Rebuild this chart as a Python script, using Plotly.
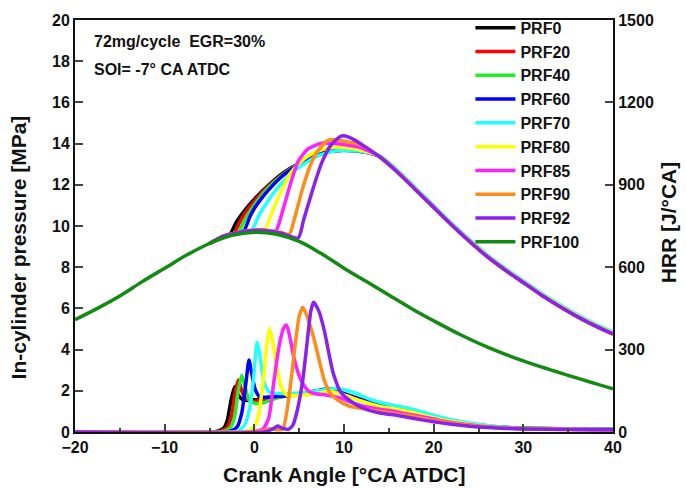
import plotly.graph_objects as go

# ---------------- data ----------------
names = ["PRF0", "PRF20", "PRF40", "PRF60", "PRF70", "PRF80", "PRF85", "PRF90", "PRF92", "PRF100"]
colors = ["#000000", "#ff0000", "#22ee22", "#0000ff", "#22ffff", "#ffff00", "#ff22ff", "#ff8c1a", "#8a22ee", "#138a13"]

# motoring / PRF100 pressure
ca_p_prf100 = [-20, -17.5, -15, -12.5, -10, -7.5, -5, -2.5, 0, 2.5, 5, 7.5, 10, 12.5, 15, 17.5, 20, 23, 26, 30, 35, 40]
p_prf100 = [5.45, 6.0, 6.6, 7.3, 7.95, 8.6, 9.15, 9.55, 9.7, 9.6, 9.25, 8.65, 7.95, 7.3, 6.65, 6.0, 5.4, 4.72, 4.12, 3.45, 2.75, 2.1]

# fired cylinder pressure (MPa)
ca_p_prf0 = [-5, -3.5, -2.7, -2, -1, 0, 1, 2, 3, 4, 5, 6, 7, 8, 9, 10, 12, 14, 16, 18, 20, 22, 24, 26, 28, 30, 32, 34, 36, 38, 40]
p_prf0 = [9.15, 9.5, 9.62, 10.2, 10.8, 11.3, 11.75, 12.15, 12.5, 12.8, 13.05, 13.3, 13.48, 13.6, 13.66, 13.68, 13.62, 13.38, 12.65, 11.8, 10.95, 10.1, 9.3, 8.55, 7.9, 7.3, 6.7, 6.15, 5.65, 5.2, 4.8]
ca_p_prf20 = [-5, -3.5, -2.3, -1.6, -1, 0, 1, 2, 3, 4, 5, 6, 7, 8, 9, 10, 12, 14, 16, 18, 20, 22, 24, 26, 28, 30, 32, 34, 36, 38, 40]
p_prf20 = [9.15, 9.5, 9.65, 10.2, 10.65, 11.2, 11.7, 12.1, 12.45, 12.78, 13.05, 13.3, 13.48, 13.6, 13.66, 13.68, 13.62, 13.38, 12.65, 11.8, 10.95, 10.1, 9.3, 8.55, 7.9, 7.3, 6.7, 6.15, 5.65, 5.2, 4.8]
ca_p_prf40 = [-5, -3.5, -1.8, -1.1, -0.5, 0.3, 1, 2, 3, 4, 5, 6, 7, 8, 9, 10, 12, 14, 16, 18, 20, 22, 24, 26, 28, 30, 32, 34, 36, 38, 40]
p_prf40 = [9.15, 9.5, 9.7, 10.25, 10.7, 11.2, 11.6, 12.05, 12.42, 12.75, 13.03, 13.28, 13.47, 13.6, 13.66, 13.68, 13.62, 13.38, 12.65, 11.8, 10.95, 10.1, 9.3, 8.55, 7.9, 7.3, 6.7, 6.15, 5.65, 5.2, 4.8]
ca_p_prf60 = [-5, -3.5, -1.2, -0.5, 0, 1, 2, 3, 4, 5, 6, 7, 8, 9, 10, 12, 14, 16, 18, 20, 22, 24, 26, 28, 30, 32, 34, 36, 38, 40]
p_prf60 = [9.15, 9.5, 9.75, 10.45, 10.85, 11.45, 11.95, 12.38, 12.72, 13.0, 13.25, 13.45, 13.58, 13.65, 13.68, 13.62, 13.38, 12.65, 11.8, 10.95, 10.1, 9.3, 8.55, 7.9, 7.3, 6.7, 6.15, 5.65, 5.2, 4.8]
ca_p_prf70 = [-5, -3.5, -0.3, 0.5, 1.5, 2.5, 3.5, 4.5, 5.5, 6.5, 7.5, 8.5, 9.5, 10.5, 12, 14, 16, 18, 20, 22, 24, 26, 28, 30, 32, 34, 36, 38, 40]
p_prf70 = [9.15, 9.5, 9.8, 10.5, 11.2, 11.8, 12.3, 12.7, 13.0, 13.28, 13.48, 13.6, 13.66, 13.66, 13.62, 13.42, 12.7, 11.85, 11.0, 10.15, 9.35, 8.6, 7.95, 7.35, 6.75, 6.2, 5.7, 5.25, 4.85]
ca_p_prf80 = [-5, -3.5, -1, 1.1, 2, 3, 4, 5, 6, 7.5, 9, 10.5, 12, 14, 16, 18, 20, 22, 24, 26, 28, 30, 32, 34, 36, 38, 40]
p_prf80 = [9.15, 9.5, 9.75, 9.8, 10.7, 11.7, 12.55, 13.05, 13.4, 13.7, 13.82, 13.8, 13.68, 13.38, 12.65, 11.8, 10.95, 10.1, 9.3, 8.55, 7.9, 7.3, 6.7, 6.15, 5.65, 5.2, 4.8]
ca_p_prf85 = [-5, -3.5, -1, 1, 2.4, 3, 4, 4.9, 6, 7.5, 9, 11, 12, 14, 16, 18, 20, 22, 24, 26, 28, 30, 32, 34, 36, 38, 40]
p_prf85 = [9.15, 9.5, 9.75, 9.8, 9.76, 10.5, 12.0, 13.15, 13.75, 14.02, 14.0, 13.88, 13.78, 13.36, 12.62, 11.77, 10.92, 10.07, 9.27, 8.52, 7.87, 7.27, 6.67, 6.12, 5.62, 5.17, 4.77]
ca_p_prf90 = [-5, -3.5, -1, 1, 3, 3.9, 4.5, 5.5, 6.3, 7, 8, 8.6, 10, 12, 14, 16, 18, 20, 22, 24, 26, 28, 30, 32, 34, 36, 38, 40]
p_prf90 = [9.15, 9.5, 9.75, 9.8, 9.68, 9.6, 10.4, 12.0, 13.0, 13.6, 14.1, 14.2, 14.12, 13.92, 13.35, 12.6, 11.75, 10.9, 10.05, 9.25, 8.5, 7.85, 7.25, 6.65, 6.1, 5.6, 5.15, 4.75]
ca_p_prf92 = [-5, -3.5, -1, 1, 3, 4.9, 5.5, 6.5, 7.5, 8.5, 9.5, 10, 11, 12, 14, 16, 18, 20, 22, 24, 26, 28, 30, 32, 34, 36, 38, 40]
p_prf92 = [9.15, 9.5, 9.75, 9.78, 9.65, 9.42, 10.3, 11.75, 13.05, 13.9, 14.32, 14.38, 14.22, 13.95, 13.35, 12.6, 11.75, 10.9, 10.05, 9.25, 8.5, 7.85, 7.25, 6.65, 6.1, 5.6, 5.15, 4.75]

# heat release rate (J/°CA)
ca_h_prf0 = [-20, -4.6, -4.0, -3.4, -3.0, -2.6, -2.2, -1.8, -1.3, -0.5, 1, 3, 5, 7, 8.5, 10, 12, 14, 16, 18, 20, 22, 24, 26, 28, 30, 35, 40]
h_prf0 = [0, 0, 4, 15, 45, 115, 165, 135, 118, 115, 122, 130, 138, 150, 155, 140, 118, 98, 86, 72, 55, 40, 30, 22, 17, 14, 11, 9]
ca_h_prf20 = [-20, -4.3, -3.7, -3.1, -2.6, -2.2, -1.8, -1.4, -1.0, 0, 1, 3, 5, 7, 8.5, 10, 12, 14, 16, 18, 20, 22, 24, 26, 28, 30, 35, 40]
h_prf20 = [0, 0, 4, 15, 50, 130, 189, 150, 122, 112, 118, 128, 137, 148, 154, 138, 115, 95, 84, 70, 53, 39, 29, 21, 16, 13, 10, 9]
ca_h_prf40 = [-20, -3.9, -3.3, -2.7, -2.2, -1.8, -1.4, -1.0, -0.6, 0, 1, 2, 3, 5, 7, 8.5, 10, 12, 14, 16, 18, 20, 22, 24, 26, 28, 30, 35, 40]
h_prf40 = [0, 0, 4, 15, 55, 150, 207, 160, 118, 105, 106, 118, 128, 136, 150, 158, 140, 116, 97, 85, 71, 54, 40, 30, 22, 17, 14, 11, 9]
ca_h_prf60 = [-20, -3.2, -2.5, -1.9, -1.4, -0.9, -0.6, -0.3, 0.1, 0.6, 1.5, 3, 5, 7, 8.5, 10, 12, 14, 16, 18, 20, 22, 24, 26, 28, 30, 35, 40]
h_prf60 = [0, 0, 5, 20, 70, 189, 262, 215, 155, 128, 127, 130, 137, 150, 157, 140, 116, 96, 84, 70, 53, 39, 29, 21, 16, 13, 10, 9]
ca_h_prf70 = [-20, -2.4, -1.7, -1.1, -0.5, -0.1, 0.3, 0.7, 1.1, 1.7, 3, 5, 7, 9, 11, 13, 15, 17, 19, 21, 23, 25, 27, 30, 35, 40]
h_prf70 = [0, 0, 5, 25, 90, 189, 327, 260, 180, 145, 140, 142, 150, 158, 145, 118, 100, 88, 70, 52, 38, 28, 20, 14, 11, 9]
ca_h_prf80 = [-20, -1.4, -0.7, -0.1, 0.4, 1.0, 1.4, 1.7, 2.1, 2.5, 3.0, 3.6, 5, 7, 8.5, 10, 12, 14, 16, 18, 20, 22, 24, 26, 28, 30, 35, 40]
h_prf80 = [0, 0, 4, 15, 50, 189, 320, 378, 320, 240, 165, 135, 133, 140, 148, 135, 112, 93, 82, 68, 51, 38, 28, 20, 15, 12, 10, 8]
ca_h_prf85 = [-20, -0.5, 0.3, 1.0, 1.6, 2.2, 2.8, 3.3, 3.6, 4.0, 4.4, 5.2, 6.0, 6.7, 8, 9.5, 11, 13, 15, 17, 19, 21, 23, 25, 28, 32, 40]
h_prf85 = [0, 0, 4, 12, 50, 189, 320, 380, 389, 340, 272, 189, 150, 140, 135, 125, 105, 88, 78, 66, 54, 40, 30, 22, 15, 11, 8]
ca_h_prf90 = [-20, 0, 1.0, 1.8, 2.6, 3.2, 3.6, 4.1, 4.6, 5.0, 5.4, 5.9, 6.7, 7.8, 8.5, 9.3, 10.5, 12, 14, 16, 18, 20, 22, 24, 26, 30, 35, 40]
h_prf90 = [0, 0, 5, 12, 8, 12, 70, 189, 330, 420, 454, 420, 334, 189, 140, 116, 95, 85, 75, 65, 55, 42, 32, 24, 18, 12, 9, 8]
ca_h_prf92 = [-20, 1.0, 2.0, 2.6, 3.1, 3.8, 4.3, 4.8, 5.4, 5.9, 6.3, 6.6, 7.2, 7.8, 8.8, 9.7, 11.1, 12.5, 14, 16, 18, 20, 22, 24, 26, 30, 35, 40]
h_prf92 = [0, 0, 10, 22, 14, 10, 25, 80, 189, 330, 440, 472, 440, 370, 214, 142, 105, 82, 69, 60, 48, 37, 28, 21, 16, 11, 9, 8]

x_ticks = [-20, -10, 0, 10, 20, 30, 40]
p_ticks = [0, 2, 4, 6, 8, 10, 12, 14, 16, 18, 20]
hrr_ticks = [0, 300, 600, 900, 1200, 1500]

pressure_x = [ca_p_prf0, ca_p_prf20, ca_p_prf40, ca_p_prf60, ca_p_prf70, ca_p_prf80, ca_p_prf85, ca_p_prf90, ca_p_prf92]
pressure_y = [p_prf0, p_prf20, p_prf40, p_prf60, p_prf70, p_prf80, p_prf85, p_prf90, p_prf92]
hrr_x = [ca_h_prf0, ca_h_prf20, ca_h_prf40, ca_h_prf60, ca_h_prf70, ca_h_prf80, ca_h_prf85, ca_h_prf90, ca_h_prf92]
hrr_y = [h_prf0, h_prf20, h_prf40, h_prf60, h_prf70, h_prf80, h_prf85, h_prf90, h_prf92]

# ---------------- figure ----------------
FONT = "Liberation Sans, Arial, sans-serif"
INK = "#111111"
LW = 3.5
fig = go.Figure()

# HRR traces (right axis)
for i in range(9):
    fig.add_trace(go.Scatter(
        x=hrr_x[i], y=hrr_y[i], mode="lines", yaxis="y2",
        line=dict(color=colors[i], width=LW, shape="spline", smoothing=0.6),
        showlegend=False, hoverinfo="skip"))

# pressure traces (left axis)
for i in range(9):
    fig.add_trace(go.Scatter(
        x=pressure_x[i], y=pressure_y[i], mode="lines", name=names[i],
        line=dict(color=colors[i], width=LW, shape="spline", smoothing=0.6),
        legendrank=i + 1))
fig.add_trace(go.Scatter(
    x=ca_p_prf100, y=p_prf100, mode="lines", name=names[9],
    line=dict(color=colors[9], width=LW, shape="spline", smoothing=1.0),
    legendrank=10))

axis_font = dict(family=FONT, size=16, color=INK, weight="bold")
title_font = dict(family=FONT, size=21, color=INK, weight="bold")
note_font = dict(family=FONT, size=16, color=INK, weight="bold")

fig.update_layout(
    width=686, height=488,
    margin=dict(l=75, r=73, t=19, b=56),
    paper_bgcolor="white", plot_bgcolor="white",
    font=dict(family=FONT, color=INK, weight="bold"),
    showlegend=True,
    legend=dict(x=0.735, y=1.02, xanchor="left", yanchor="top",
                bgcolor="rgba(0,0,0,0)", borderwidth=0, maxheight=470,
                font=dict(family=FONT, size=16, color=INK, weight="bold"),
                tracegroupgap=0, itemwidth=40),
    xaxis=dict(range=[-20, 40], tickvals=x_ticks, ticks="inside", ticklen=8, tickwidth=2,
               minor=dict(ticks="inside", ticklen=4, tickwidth=2, dtick=5, tick0=0),
               showline=True, linewidth=2, linecolor=INK, mirror=True,
               showgrid=False, zeroline=False, tickfont=axis_font),
    yaxis=dict(range=[0, 20], tickvals=p_ticks, ticks="inside", ticklen=8, tickwidth=2,
               showline=True, linewidth=2, linecolor=INK,
               showgrid=False, zeroline=False, tickfont=axis_font),
    yaxis2=dict(range=[0, 1500], tickvals=hrr_ticks, ticks="inside", ticklen=8, tickwidth=2,
                overlaying="y", side="right",
                showline=True, linewidth=2, linecolor=INK,
                showgrid=False, zeroline=False, tickfont=axis_font),
    annotations=[
        dict(text="Crank Angle [°CA ATDC]", xref="paper", yref="paper", x=0.5, y=-0.102,
             xanchor="center", yanchor="middle", showarrow=False, font=title_font),
        dict(text="In-cylinder pressure [MPa]", xref="paper", yref="paper", x=-0.106, y=0.448,
             xanchor="center", yanchor="middle", textangle=-90, showarrow=False, font=title_font),
        dict(text="HRR [J/°CA]", xref="paper", yref="paper", x=1.103, y=0.51,
             xanchor="center", yanchor="middle", textangle=-90, showarrow=False, font=title_font),
        dict(text="72mg/cycle  EGR=30%", xref="paper", yref="paper", x=0.032, y=0.947,
             xanchor="left", yanchor="middle", showarrow=False, font=note_font),
        dict(text="SOI= -7° CA ATDC", xref="paper", yref="paper", x=0.032, y=0.879,
             xanchor="left", yanchor="middle", showarrow=False, font=note_font),
    ],
)

fig.write_html("out.html")
